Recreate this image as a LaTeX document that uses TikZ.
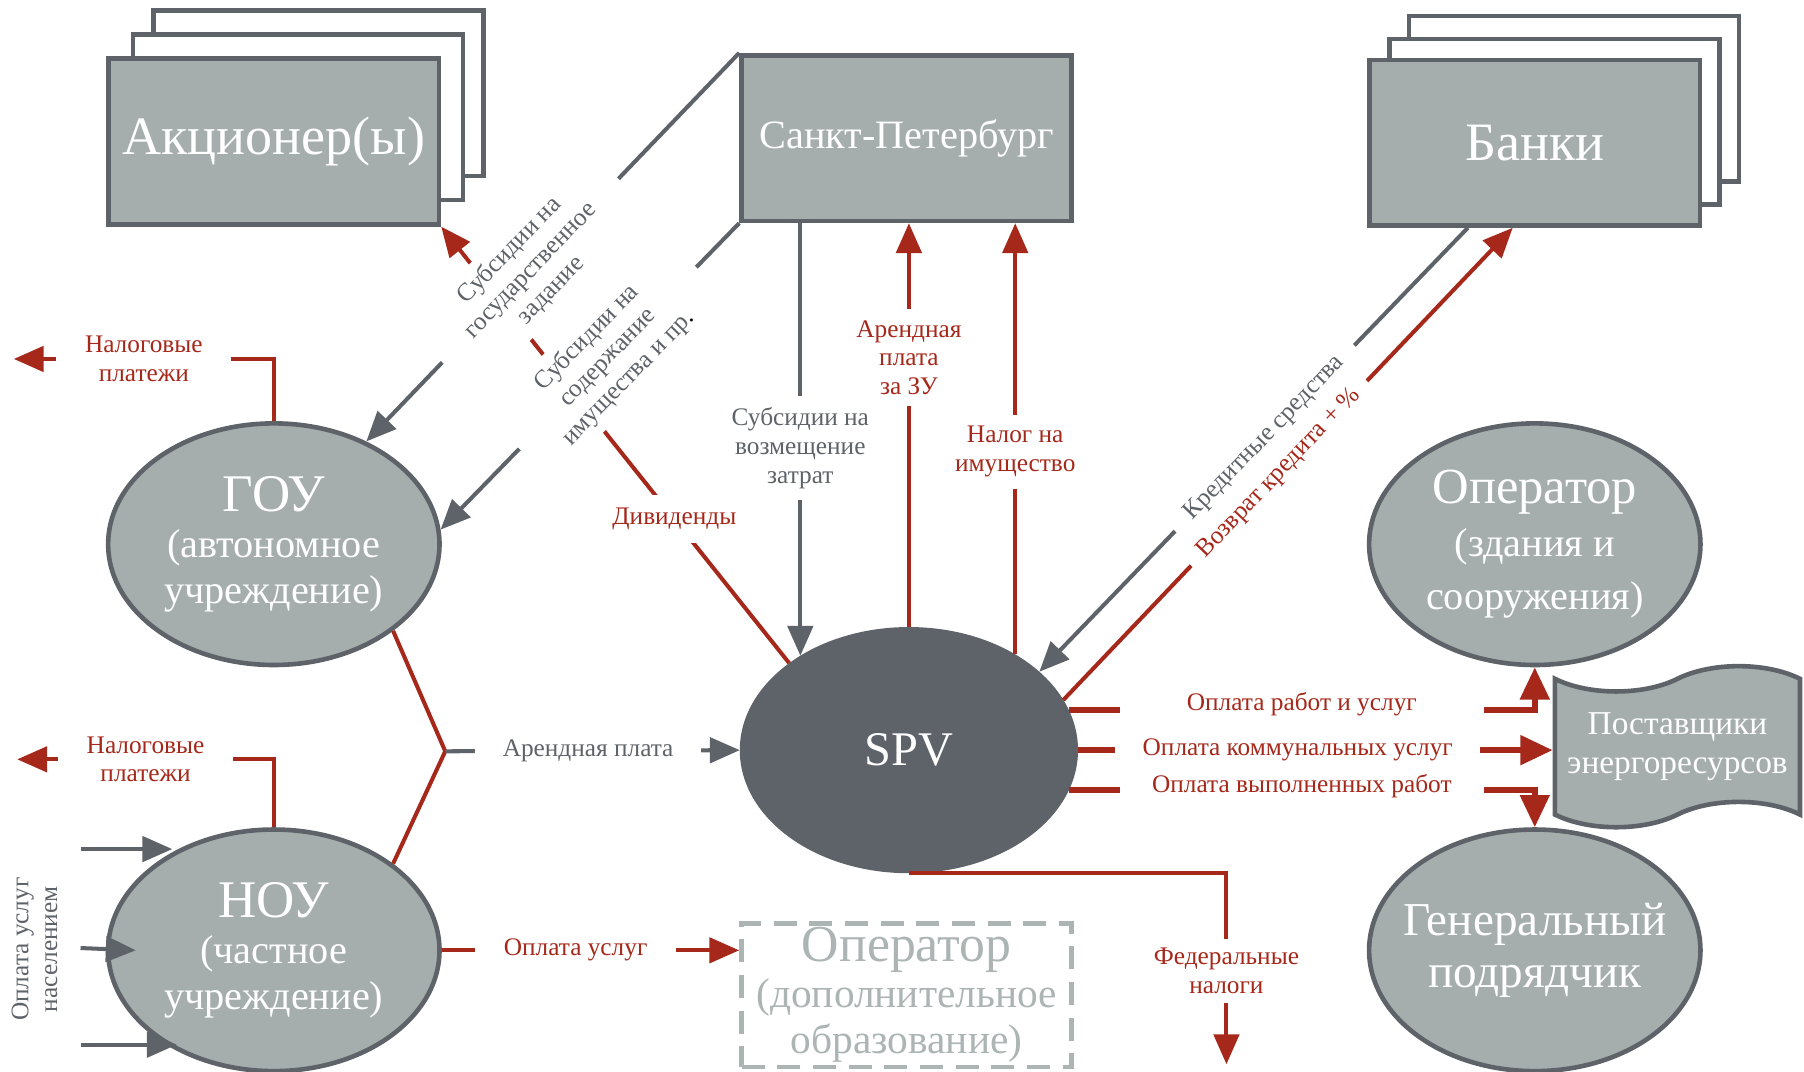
\documentclass[tikz,border=0pt]{standalone}
\usepackage{fontspec}
\setmainfont{Liberation Serif}
\usepackage{tikz}
\usetikzlibrary{shapes.geometric}
\usetikzlibrary{shapes.symbols}
\usetikzlibrary{arrows.meta, positioning, calc}

\definecolor{dgray}{RGB}{94,99,105}
\definecolor{lgray}{RGB}{165,173,173}
\definecolor{pgray}{RGB}{172,180,180}
\definecolor{dred}{RGB}{166,40,26}

\newcommand{\lblfont}{\fontsize{22}{25}\selectfont}

\begin{document}
\begin{tikzpicture}[x = 1pt, y = -1pt, > = {Triangle[length = 26pt, width = 22pt]},
	box/.style = {draw = dgray, line width = 4pt, fill = lgray, minimum width = 287pt, minimum height = 144pt, text = white},
	backbox/.style = {box, fill = white},
	oval/.style = {ellipse, draw = dgray, line width = 4pt, fill = lgray, minimum width = 288pt, minimum height = 210pt, inner xsep = -20pt, inner ysep = 0pt, text = white, align = center},
	dashbox/.style = {draw = pgray, line width = 4pt, dash pattern = on 20pt off 11pt, minimum width = 287pt, minimum height = 125pt, text = pgray, align = center},
	tapebox/.style = {tape, draw = dgray, line width = 4pt, fill = lgray, minimum width = 213pt, minimum height = 140pt, tape bend height = 22pt, text = white, align = center},
	gline/.style = {draw = dgray, line width = 3.5pt},
	rline/.style = {draw = dred, line width = 3.5pt},
	garrow/.style = {gline, ->},
	rarrow/.style = {rline, ->},
	bigarrow/.style = {rline, line width = 5pt, -{Triangle[length = 28pt, width = 25pt]}},
	glabel/.style = {fill = white, text = dgray, font = \lblfont, align = center, inner xsep = 6pt, inner ysep = 10pt},
	rlabel/.style = {glabel, text = dred}]

\useasboundingbox (0,0) rectangle (1568,931);

% top row
\node[backbox]										(akc3)	at (277,81)		{};
\node[backbox]										(akc2)	at (259,102)	{};
\node[box, font = \fontsize{47}{50}\selectfont]		(akc)	at (238,123)	{Акционер(ы)};
\node[box, font = \fontsize{35}{40}\selectfont]		(spb)	at (788,120)	{Санкт-Петербург};
\node[backbox]										(bank3)	at (1368,86)	{};
\node[backbox]										(bank2)	at (1351,106)	{};
\node[box, font = \fontsize{47}{50}\selectfont]		(bank)	at (1334,124)	{Банки};

% schools
\node[oval, font = \fontsize{35}{40}\selectfont]	(gou)	at (238,473)	{{\fontsize{46}{50}\selectfont ГОУ}\\(автономное\\учреждение)};
\node[oval, font = \fontsize{35}{40}\selectfont]	(nou)	[below = 139pt of gou]	{{\fontsize{46}{50}\selectfont НОУ}\\(частное\\учреждение)};

% centre
\node[oval, fill = dgray, minimum width = 290pt, font = \fontsize{42}{46}\selectfont]	(spv)	at (790,652)	{SPV};
\node[dashbox, font = \fontsize{36}{40}\selectfont]	(opd)	at (788,865)	{{\fontsize{45}{48}\selectfont Оператор}\\(дополнительное\\образование)};

% right column
\node[oval, font = \fontsize{35}{46}\selectfont]	(opz)	at (1334,473)	{{\fontsize{44}{48}\selectfont Оператор}\\(здания и\\сооружения)};
\node[oval, font = \fontsize{41}{45}\selectfont]	(gen)	[below = 139pt of opz]	{Генеральный\\подрядчик};
\node[tapebox, font = \fontsize{29}{34}\selectfont]	(post)	at (1458,649)	{Поставщики\\энергоресурсов};

\coordinate (arj)	at (387,653);
\coordinate (taxg)	at (12,312);
\coordinate (taxn)	at (15,660);
\coordinate (fedt)	at (1066,925);
\coordinate (pay1)	at (70,738);
\coordinate (pay2)	at (70,824);
\coordinate (pay3)	at (70,908);

\path	(spv.144)	edge[rarrow]	node[rlabel, pos = 0.33, inner ysep = 11pt]		{Дивиденды}		(akc.south east);
\path	(spb.north west)	edge[garrow]	node[glabel, sloped, pos = 0.56, inner xsep = 33pt, inner ysep = 7pt]	{Субсидии на\\государственное\\задание}	(gou.48);
\path	(spb.south west)	edge[garrow]	node[glabel, sloped, pos = 0.44, inner xsep = 33pt, inner ysep = 7pt]	{Субсидии на\\содержание\\имущества и пр{\color{black}.}}	(gou.5);

\path	(spv.139 |- spb.south)	edge[garrow]	node[glabel, pos = 0.52]	{Субсидии на\\возмещение\\затрат}	(spv.139);
\path	(spv.north)	edge[rarrow]	node[rlabel, pos = 0.667]	{Арендная\\плата\\за ЗУ}	(spv.north |- spb.south);
\path	(spv.42)	edge[rarrow]	node[rlabel, pos = 0.47]	{Налог на\\имущество}	(spv.42 |- spb.south);

\path	($(bank.south west)!0.3!(bank.south east)$)	edge[garrow]	node[glabel, sloped, pos = 0.474, inner xsep = 17pt, inner ysep = 7pt]	{Кредитные средства}	(spv.31);
\path	(spv.18)	edge[rarrow]	node[rlabel, sloped, pos = 0.48, inner xsep = 13pt, inner ysep = 7pt]	{Возврат кредита + \%}	($(bank.south west)!0.434!(bank.south east)$);

\draw[rline]	(gou.-36) -- (arj) -- (nou.36);
\path	(arj)	edge[garrow]	node[glabel, pos = 0.485, inner xsep = 24pt]	{Арендная плата}	(spv.west);

\draw[rarrow]	(gou.north) |- node[rlabel, pos = 0.75, inner xsep = 25pt]	{Налоговые\\платежи}	(taxg);
\draw[rarrow]	(nou.north) |- node[rlabel, pos = 0.75, inner xsep = 25pt]	{Налоговые\\платежи}	(taxn);

\path	(nou.east)	edge[rarrow]	node[rlabel, pos = 0.45, inner xsep = 25pt]	{Оплата услуг}	(nou.east -| opd.west);

\path	(pay1)	edge[garrow]	(pay1 -| nou.136);
\path	(pay2)	edge[garrow]	($(nou.west) + (26,0)$);
\path	(pay3)	edge[garrow]	(pay3 -| nou.226);
\node[text = dgray, font = \lblfont, rotate = 90, align = center]	(paylbl)	at (30,825)	{Оплата услуг\\населением};

\draw[rarrow]	(spv.south) -| node[rlabel, pos = 0.755, inner ysep = 8pt]	{Федеральные\\налоги}	(fedt);

\draw[bigarrow]	(spv.14) -| node[rlabel, pos = 0.25, minimum width = 317pt, inner ysep = 5pt, yshift = 5pt]	{Оплата работ и услуг}	(opz.south);
\path	(spv.east)	edge[bigarrow]	node[rlabel, pos = 0.463, minimum width = 317pt, inner ysep = 5pt]	{Оплата коммунальных услуг}	(spv.east -| post.west);
\draw[bigarrow]	(spv.-14) -| node[rlabel, pos = 0.25, minimum width = 317pt, inner ysep = 5pt, yshift = 3pt]	{Оплата выполненных работ}	(gen.north);

\end{tikzpicture}
\end{document}
